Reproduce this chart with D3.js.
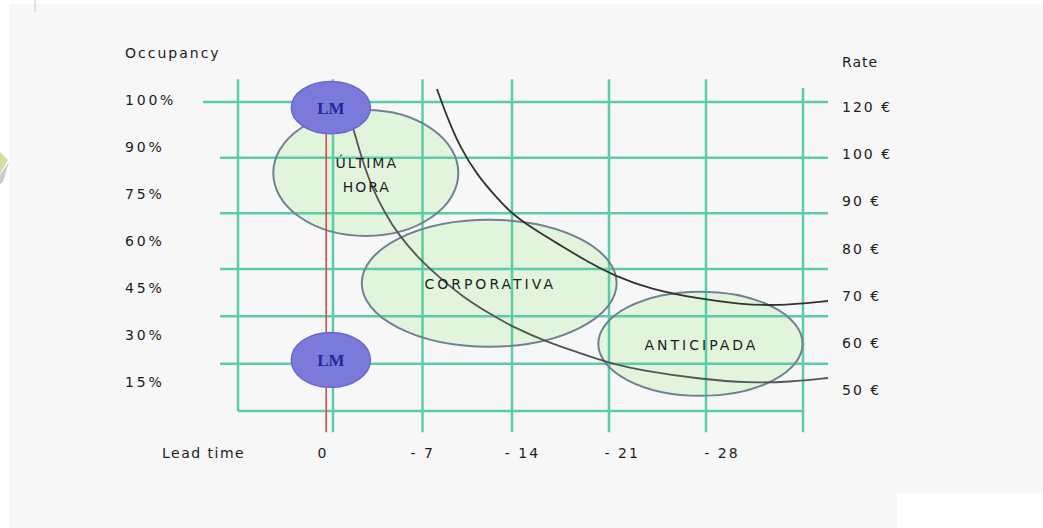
<!DOCTYPE html>
<html>
<head>
<meta charset="utf-8">
<script src="https://cdn.jsdelivr.net/npm/d3@7"></script>
<style>
  html, body { margin: 0; padding: 0; background: #ffffff; }
  svg { display: block; }
  text { font-family: "DejaVu Sans", Verdana, sans-serif; fill: #1c1c1c; }
</style>
</head>
<body>
<svg id="chart" width="1043" height="528"></svg>
<script>
// Grid positions (lead time in days, occupancy rows from the top)
const gridLeads = [7, 0, -7, -14, -21, -28, -35];
const gridRows = [0, 1, 2, 3, 4, 5, 6];

// Axis labels
const leadTicks = ["0", "- 7", "- 14", "- 21", "- 28"];
const occupancyLabels = ["100%", "90%", "75%", "60%", "45%", "30%", "15%"];
const rateLabels = ["120 €", "100 €", "90 €", "80 €", "70 €", "60 €", "50 €"];

// Booking segments: centre and half-extent in lead days / rows
const segments = ["ÚLTIMA HORA", "CORPORATIVA", "ANTICIPADA"];
const segmentLead = [-2.7, -11.9, -27.6];
const segmentLeadHalf = [7.1, 9.65, 7.37];
const segmentRow = [1.275, 3.38, 4.58];
const segmentRowHalf = [1.13, 1.264, 1.10];

// Last-minute markers
const lmLead = [0, 0];
const lmRow = [0.1, 4.92];
const lmLeadHalf = [3, 3];
const lmRowHalf = [0.47, 0.58];

// Rate curve (upper) and occupancy curve (lower)
const rateCurveLead = [-8.13, -8.92, -9.93, -11.26, -12.83, -14.0, -15.66, -17.46, -19.48, -21.43, -23.96, -27.57, -30.45, -32.98, -36.8];
const rateCurveRow = [-0.234, 0.269, 0.808, 1.311, 1.725, 2.012, 2.299, 2.569, 2.874, 3.148, 3.423, 3.634, 3.74, 3.782, 3.676];
const occCurveLead = [-1.33, -1.49, -2.27, -3.13, -4.07, -5.01, -6.8, -8.37, -10.17, -12.28, -14.07, -16.53, -18.91, -20.93, -23.96, -27.57, -31.18, -34.06, -36.8];
const occCurveRow = [0.287, 0.395, 1.042, 1.581, 1.994, 2.353, 2.838, 3.19, 3.592, 3.951, 4.225, 4.542, 4.775, 4.986, 5.176, 5.324, 5.408, 5.387, 5.303];

// Booking window boundary (day 0 marker)
const todayLead = 0.5;

const svg = d3.select("#chart");

const x = d3.scaleLinear().domain([7, 0, -14, -35]).range([238, 333, 512, 803]);
const y = d3.scaleLinear().domain([0, 3, 6]).range([102, 269, 411]);
const yLeft = d3.scalePoint().domain(occupancyLabels).range([100, 382]);
const yRight = d3.scalePoint().domain(rateLabels).range([107, 390]);
const xTick = d3.scalePoint().domain(leadTicks).range([323, 722]);

// Background panel
svg.append("rect").attr("x", 9).attr("y", 4).attr("width", 1034).attr("height", 524).attr("fill", "#f7f7f7");
svg.append("rect").attr("x", 897).attr("y", 493).attr("width", 146).attr("height", 35).attr("fill", "#ffffff");
svg.append("line").attr("x1", 35).attr("x2", 35).attr("y1", 0).attr("y2", 12).attr("stroke", "#c8c8c8").attr("stroke-width", 1);
svg.append("polygon").attr("points", "0,175 9,162 3,182 0,184").attr("fill", "#9a9a9a").attr("opacity", 0.5);
svg.append("polygon").attr("points", "0,152 8,160 0,174").attr("fill", "#cfe0a8");

const ellipse = (lead, halfLead, row, halfRow) => {
  const xa = x(lead + halfLead), xb = x(lead - halfLead);
  const ya = y(row - halfRow), yb = y(row + halfRow);
  return { cx: (xa + xb) / 2, rx: Math.abs(xb - xa) / 2, cy: (ya + yb) / 2, ry: Math.abs(yb - ya) / 2 };
};
const segs = segments.map((name, i) => Object.assign({ name }, ellipse(segmentLead[i], segmentLeadHalf[i], segmentRow[i], segmentRowHalf[i])));

// Segment fills under the grid
svg.append("g").selectAll("ellipse").data(segs).join("ellipse")
  .attr("cx", d => d.cx).attr("cy", d => d.cy).attr("rx", d => d.rx).attr("ry", d => d.ry)
  .attr("fill", "#e2f5dc");

// Grid
const gridColor = "#5ccca6";
const grid = svg.append("g").attr("stroke", gridColor).attr("stroke-width", 2.5);
grid.selectAll("line.h").data(gridRows).join("line").attr("class", "h")
  .attr("x1", r => r === 0 ? x(9.58) : r === 6 ? x(7) : x(8.33))
  .attr("x2", r => r === 6 ? x(-35) : x(-36.8))
  .attr("y1", r => y(r)).attr("y2", r => y(r));
grid.selectAll("line.v").data(gridLeads).join("line").attr("class", "v")
  .attr("x1", d => x(d)).attr("x2", d => x(d))
  .attr("y1", d => d === -35 ? y(-0.25) : y(-0.41))
  .attr("y2", d => d === 7 ? y(6) : y(6.45));

// Segment outlines
svg.append("g").selectAll("ellipse").data(segs).join("ellipse")
  .attr("cx", d => d.cx).attr("cy", d => d.cy).attr("rx", d => d.rx).attr("ry", d => d.ry)
  .attr("fill", "none").attr("stroke", "#6f8292").attr("stroke-width", 2);

// Curves
const line = d3.line().x(d => x(d[0])).y(d => y(d[1])).curve(d3.curveBasis);
svg.append("path").attr("d", line(rateCurveLead.map((l, i) => [l, rateCurveRow[i]])))
  .attr("fill", "none").attr("stroke", "#333").attr("stroke-width", 1.8);
svg.append("path").attr("d", line(occCurveLead.map((l, i) => [l, occCurveRow[i]])))
  .attr("fill", "none").attr("stroke", "#555").attr("stroke-width", 1.8);

// Day-0 marker
svg.append("line").attr("x1", x(todayLead)).attr("x2", x(todayLead))
  .attr("y1", y(0.4)).attr("y2", y(6.45))
  .attr("stroke", "#d24a4a").attr("stroke-width", 1.6);

// Segment labels
const labels = svg.append("g").attr("font-size", 14).attr("letter-spacing", 3).attr("text-anchor", "middle");
segs.forEach(d => {
  const words = d.name === "ÚLTIMA HORA" ? ["ÚLTIMA", "HORA"] : [d.name];
  const t = labels.append("text").attr("dominant-baseline", "central")
    .attr("letter-spacing", words.length > 1 ? 2 : 3);
  words.forEach((w, i) => {
    t.append("tspan").attr("x", d.cx + 1).attr("y", d.cy + (words.length > 1 ? (i === 0 ? -10 : 14) : 1)).text(w);
  });
});

// Last-minute markers
const lms = lmLead.map((l, i) => ellipse(l, lmLeadHalf[i], lmRow[i], lmRowHalf[i]));
const lmG = svg.append("g").selectAll("g").data(lms).join("g");
lmG.append("ellipse").attr("cx", d => d.cx - 1).attr("cy", d => d.cy).attr("rx", d => d.rx).attr("ry", d => d.ry)
  .attr("fill", "#7b79d9").attr("stroke", "#6a68cc").attr("stroke-width", 1.5);
lmG.append("text").attr("x", d => d.cx - 1).attr("y", d => d.cy + 1)
  .attr("text-anchor", "middle").attr("dominant-baseline", "central")
  .style("font-family", "'Liberation Serif', serif").style("font-weight", "bold")
  .style("fill", "#27279a").attr("font-size", 17).text("LM");

// Axes text
const axisText = svg.append("g").attr("font-size", 14).attr("letter-spacing", 2);
axisText.append("text").attr("x", 125).attr("y", 53).attr("dominant-baseline", "central").text("Occupancy");
axisText.append("text").attr("x", 842).attr("y", 62).attr("dominant-baseline", "central").attr("letter-spacing", 1).text("Rate");
axisText.append("text").attr("x", 162).attr("y", 453).attr("dominant-baseline", "central").attr("letter-spacing", 1.5).text("Lead time");
axisText.selectAll("text.occ").data(occupancyLabels).join("text").attr("class", "occ")
  .attr("x", 125).attr("y", d => yLeft(d)).attr("dominant-baseline", "central").attr("letter-spacing", 2.8).text(d => d);
axisText.selectAll("text.rate").data(rateLabels).join("text").attr("class", "rate")
  .attr("x", 842).attr("y", d => yRight(d)).attr("dominant-baseline", "central").attr("letter-spacing", 2).text(d => d);
axisText.selectAll("text.lead").data(leadTicks).join("text").attr("class", "lead")
  .attr("x", d => xTick(d)).attr("y", 453).attr("text-anchor", "middle").attr("dominant-baseline", "central").text(d => d);
</script>
</body>
</html>
